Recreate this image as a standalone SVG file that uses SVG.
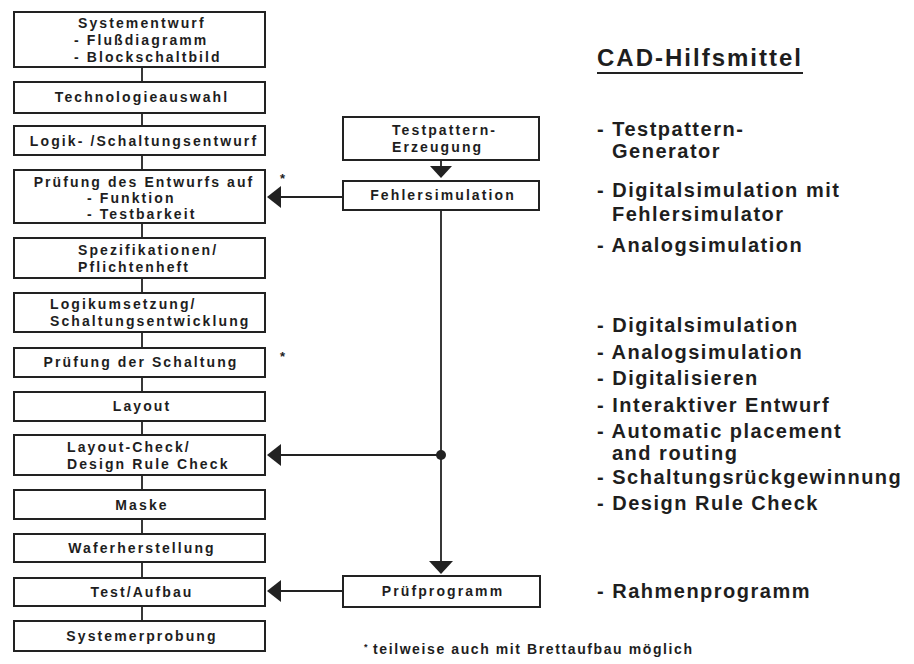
<svg xmlns="http://www.w3.org/2000/svg" width="914" height="664" viewBox="0 0 914 664">
<style>
.box{fill:#fff;stroke:#222;stroke-width:2}
.t{font-family:"Liberation Sans",Arial,sans-serif;font-weight:bold;font-size:14px;letter-spacing:2.1px;fill:#1e1e1e}
.c{text-anchor:middle}
.r{font-family:"Liberation Sans",Arial,sans-serif;font-weight:bold;font-size:20px;letter-spacing:1.5px;fill:#1e1e1e}
.ln{stroke:#222;stroke-width:1.8;fill:none}
.ah{fill:#222}
</style>
<rect width="914" height="664" fill="#fff"/>
<g id="connectors">
<line class="ln" x1="142" y1="67" x2="142" y2="82"/>
<line class="ln" x1="142" y1="113" x2="142" y2="126"/>
<line class="ln" x1="142" y1="155" x2="142" y2="170"/>
<line class="ln" x1="142" y1="223" x2="142" y2="238"/>
<line class="ln" x1="142" y1="278" x2="142" y2="293"/>
<line class="ln" x1="142" y1="332" x2="142" y2="348"/>
<line class="ln" x1="142" y1="377" x2="142" y2="392"/>
<line class="ln" x1="142" y1="421" x2="142" y2="435"/>
<line class="ln" x1="142" y1="475" x2="142" y2="490"/>
<line class="ln" x1="142" y1="519" x2="142" y2="534"/>
<line class="ln" x1="142" y1="562" x2="142" y2="578"/>
<line class="ln" x1="142" y1="606" x2="142" y2="621"/>
<line class="ln" x1="441" y1="160" x2="441" y2="167"/>
<polygon class="ah" points="430,166 452,166 441,178"/>
<line class="ln" x1="441" y1="210" x2="441" y2="562"/>
<polygon class="ah" points="429,561 453,561 441,574"/>
<circle class="ah" cx="441" cy="455" r="5"/>
<line class="ln" x1="280" y1="197" x2="343" y2="197"/>
<polygon class="ah" points="267,197 281,186 281,208"/>
<line class="ln" x1="280" y1="455" x2="441" y2="455"/>
<polygon class="ah" points="267,455 281,444 281,466"/>
<line class="ln" x1="280" y1="591" x2="343" y2="591"/>
<polygon class="ah" points="267,591 281,580 281,602"/>
</g>
<g id="n1"><rect class="box" x="14" y="12" width="251" height="55"/>
<text class="t" x="78" y="28">Systementwurf</text>
<text class="t" x="74" y="45">- Flußdiagramm</text>
<text class="t" x="74" y="62">- Blockschaltbild</text></g>
<g id="n2"><rect class="box" x="14" y="82" width="251" height="31"/>
<text class="t c" x="142" y="102">Technologieauswahl</text></g>
<g id="n3"><rect class="box" x="14" y="126" width="251" height="29"/>
<text class="t c" x="144" y="146">Logik- /Schaltungsentwurf</text></g>
<g id="n4"><rect class="box" x="14" y="170" width="251" height="53"/>
<text class="t c" x="144" y="187">Prüfung des Entwurfs auf</text>
<text class="t" x="87" y="203">- Funktion</text>
<text class="t" x="87" y="219">- Testbarkeit</text></g>
<g id="n5"><rect class="box" x="14" y="238" width="251" height="40"/>
<text class="t" x="78" y="255">Spezifikationen/</text>
<text class="t" x="78" y="272">Pflichtenheft</text></g>
<g id="n6"><rect class="box" x="14" y="293" width="251" height="39"/>
<text class="t" x="50" y="309">Logikumsetzung/</text>
<text class="t" x="50" y="326">Schaltungsentwicklung</text></g>
<g id="n7"><rect class="box" x="14" y="348" width="251" height="29"/>
<text class="t c" x="141" y="367">Prüfung der Schaltung</text></g>
<g id="n8"><rect class="box" x="14" y="392" width="251" height="29"/>
<text class="t c" x="142" y="411">Layout</text></g>
<g id="n9"><rect class="box" x="14" y="435" width="251" height="40"/>
<text class="t" x="67" y="452">Layout-Check/</text>
<text class="t" x="67" y="469">Design Rule Check</text></g>
<g id="n10"><rect class="box" x="14" y="490" width="251" height="29"/>
<text class="t c" x="142" y="510">Maske</text></g>
<g id="n11"><rect class="box" x="14" y="534" width="251" height="28"/>
<text class="t c" x="142" y="553">Waferherstellung</text></g>
<g id="n12"><rect class="box" x="14" y="578" width="251" height="28"/>
<text class="t c" x="142" y="597">Test/Aufbau</text></g>
<g id="n13"><rect class="box" x="14" y="621" width="251" height="30"/>
<text class="t c" x="142" y="641">Systemerprobung</text></g>
<g id="m1"><rect class="box" x="343" y="117" width="196" height="43"/>
<text class="t" x="392" y="135">Testpattern-</text>
<text class="t" x="392" y="152">Erzeugung</text></g>
<g id="m2"><rect class="box" x="343" y="181" width="196" height="29"/>
<text class="t c" x="443" y="200">Fehlersimulation</text></g>
<g id="m3"><rect class="box" x="343" y="576" width="197" height="31"/>
<text class="t c" x="443" y="596">Prüfprogramm</text></g>
<g id="notes">
<text class="t" x="280" y="183" style="font-size:13px">*</text>
<text class="t" x="280" y="361" style="font-size:13px">*</text>
<text class="t" x="364" y="650" style="font-size:9px">*</text>
<text class="t" x="373" y="654" style="font-size:14px;letter-spacing:1.6px">teilweise auch mit Brettaufbau möglich</text>
</g>
<g id="cad">
<text x="597" y="66" style="font-family:'Liberation Sans',Arial,sans-serif;font-weight:bold;font-size:24px;letter-spacing:2px;fill:#1e1e1e">CAD-Hilfsmittel</text>
<line x1="597" y1="73" x2="803" y2="73" stroke="#222" stroke-width="2"/>
<text class="r" x="597" y="136">- Testpattern-</text>
<text class="r" x="612" y="158">Generator</text>
<text class="r" x="597" y="197">- Digitalsimulation mit</text>
<text class="r" x="612" y="221">Fehlersimulator</text>
<text class="r" x="597" y="252">- Analogsimulation</text>
<text class="r" x="597" y="332">- Digitalsimulation</text>
<text class="r" x="597" y="359">- Analogsimulation</text>
<text class="r" x="597" y="385">- Digitalisieren</text>
<text class="r" x="597" y="412">- Interaktiver Entwurf</text>
<text class="r" x="597" y="438">- Automatic placement</text>
<text class="r" x="612" y="460">and routing</text>
<text class="r" x="597" y="484">- Schaltungsrückgewinnung</text>
<text class="r" x="597" y="510">- Design Rule Check</text>
<text class="r" x="597" y="598">- Rahmenprogramm</text>
</g>
</svg>
